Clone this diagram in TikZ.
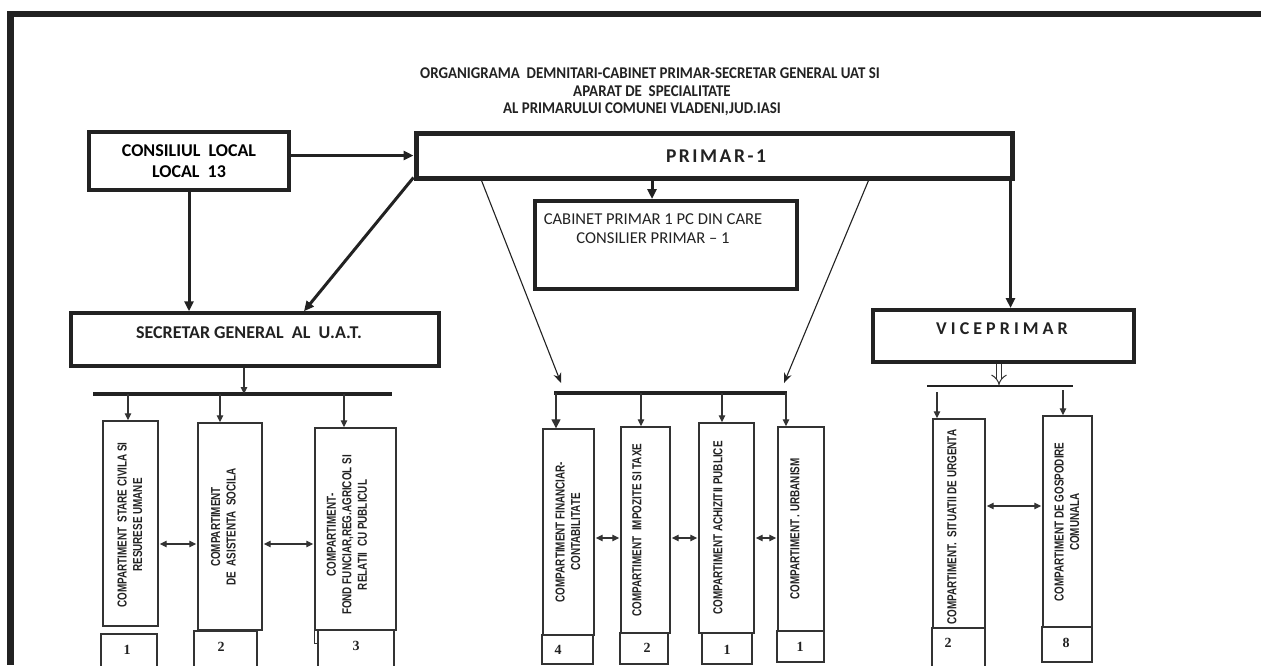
\documentclass[tikz,border=0pt]{standalone}
\usepackage{fontspec}
\usetikzlibrary{arrows.meta,calc}
\newfontfamily\calfont{Carlito}
\newfontfamily\calnarrow[FakeStretch=0.91]{Carlito}
\newfontfamily\narfont[FakeStretch=0.76]{Liberation Sans}
\newfontfamily\serfont{Liberation Serif}
\definecolor{ink}{HTML}{222222}
\definecolor{ink2}{HTML}{333333}
\begin{document}
\begin{tikzpicture}[x=1pt,y=-1pt,
  topbox/.style={draw=ink, line width=4pt, inner sep=0pt, align=center,
    font={\calfont\bfseries\fontsize{18}{21}\selectfont}},
  toptext/.style={inner sep=0pt, align=center, text=ink,
    font={\calfont\bfseries\fontsize{18}{21}\selectfont}},
  titletext/.style={inner sep=0pt, text=ink,
    font={\calnarrow\bfseries\fontsize{16.4}{18}\selectfont}},
  cabtext/.style={inner sep=0pt, align=center, text=ink,
    font={\calfont\fontsize{16.6}{19}\selectfont}},
  compbox/.style={draw=ink2, line width=1.4pt, inner sep=0pt},
  comptext/.style={rotate=90, inner sep=0pt, align=center, text=ink,
    font={\narfont\bfseries\fontsize{13}{15.5}\selectfont}},
  numtext/.style={inner sep=0pt, text=ink,
    font={\serfont\bfseries\fontsize{14}{16}\selectfont}},
  bigarr/.style={draw=ink, line width=3pt, -{Triangle[length=10pt,width=9pt]}},
  thinarr/.style={draw=ink, line width=1.1pt, -{Stealth[length=10pt,width=8pt]}},
  sarr/.style={draw=ink2, line width=1.3pt, -{Triangle[length=7pt,width=6.5pt]}},
  darr/.style={draw=ink2, line width=1.3pt, {Triangle[length=7pt,width=6.5pt]}-{Triangle[length=7pt,width=6.5pt]}, shorten <=1pt, shorten >=1pt},
  busline/.style={draw=ink, line width=3.3pt},
  openarr/.style={draw=ink2, double=white, double distance=4.5pt, line width=1pt, -{Implies}}
]
\useasboundingbox (0,0) rectangle (1261,665);
\fill[white] (0,0) rectangle (1261,665);
% scanned page border
\fill[ink] (7,11) rectangle (1261,17);
\fill[ink] (7,11) rectangle (14,665);

% title
\node[titletext] (t1) at (650,73) {ORGANIGRAMA\ \ DEMNITARI-CABINET PRIMAR-SECRETAR GENERAL UAT SI};
\node[titletext] (t2) at (652,91) {APARAT DE\ \ SPECIALITATE};
\node[titletext] (t3) at (642,109) {AL PRIMARULUI COMUNEI VLADENI,JUD.IASI};

% top boxes
\node[topbox, minimum width=200pt, minimum height=58pt] (cons) at (189,161) {CONSILIUL\ \ LOCAL\\LOCAL\ \ 13};
\node[topbox, line width=5pt, minimum width=596pt, minimum height=45pt] (prim) at (714,155.5) {};
\node[toptext, font={\calfont\bfseries\fontsize{19.5}{22}\selectfont\addfontfeature{LetterSpace=13}}] (primt) at (716,156) {PRIMAR-1};
\node[topbox, minimum width=262pt, minimum height=88pt] (cab) at (666,245) {};
\node[cabtext] (cabt) at (653,228.5) {CABINET PRIMAR 1 PC DIN CARE\\CONSILIER PRIMAR \textendash\ 1};
\node[topbox, line width=3.5pt, minimum width=368pt, minimum height=53pt] (secr) at (255,339.5) {};
\node[toptext] (secrt) at (249,333) {SECRETAR GENERAL\ \ AL\ \ U.A.T.};
\node[topbox, minimum width=261pt, minimum height=52pt] (vice) at (1003.5,336) {};
\node[toptext] (vicet) at (1002,329) {V I C E P R I M A R};

% buses
\coordinate (lbusL) at (93,394);  \coordinate (lbusR) at (392,394);
\coordinate (mbusL) at (554,393); \coordinate (mbusR) at (787,393);
\coordinate (rbusL) at (927,386); \coordinate (rbusR) at (1073,386);
\coordinate (mA) at (561,383); \coordinate (mB) at (784,383);
\draw[busline] (lbusL) -- (lbusR);
\draw[busline] (mbusL) -- (mbusR);
\draw[busline, line width=2.7pt] (rbusL) -- (rbusR);

% top connectors
\draw[bigarr] (cons.east |- prim.west) -- (prim.west);
\draw[bigarr] (cons.south) -- (cons.south |- secr.north);
\draw[bigarr] ([yshift=3pt]prim.south west) -- ([xshift=49pt]secr.north);
\draw[bigarr] ([xshift=-62pt]prim.south) -- ([xshift=-62pt]prim.south |- cab.north);
\draw[bigarr] ([xshift=-4pt]prim.south east) -- ([xshift=-4pt]prim.south east |- vice.north);
\draw[thinarr] ([xshift=68pt]prim.south west) -- (mA);
\draw[thinarr] ([xshift=-146pt]prim.south east) -- (mB);
\draw[sarr] ([xshift=-11pt]secr.south) -- ([xshift=-11pt]secr.south |- lbusL);
\draw[openarr] ([xshift=-4.5pt]vice.south) -- ([xshift=-4.5pt,yshift=1pt]vice.south |- rbusL);

% compartment boxes
\node[compbox, minimum width=55pt, minimum height=205pt] (b1) at (130.5,523.5) {};
\node[compbox, minimum width=64pt, minimum height=207pt] (b2) at (230,526.5) {};
\node[compbox, minimum width=81pt, minimum height=202pt] (b3) at (355.5,529) {};
\node[compbox, minimum width=51pt, minimum height=206pt] (b4) at (568.5,532) {};
\node[compbox, minimum width=49pt, minimum height=206pt] (b5) at (645.5,530) {};
\node[compbox, minimum width=55pt, minimum height=210pt] (b6) at (726.5,528) {};
\node[compbox, minimum width=46pt, minimum height=204pt] (b7) at (801,529) {};
\node[compbox, minimum width=52pt, minimum height=209pt] (b8) at (959,523.5) {};
\node[compbox, minimum width=49pt, minimum height=211pt] (b9) at (1067.5,521.5) {};
\draw[draw=ink2, line width=1.4pt] (b3.south west) -- ++(0,13) -- ++(3,0);

\node[comptext] (t1c) at (130,525) {COMPARTIMENT\ \ STARE CIVILA SI\\RESURESE UMANE};
\node[comptext] (t2c) at (223.5,527) {COMPARTIMENT\\DE\ \ ASISTENTA\ \ SOCILA};
\node[comptext] (t3c) at (347,535) {COMPARTIMENT-\\FOND FUNCIAR,REG.AGRICOL SI\\RELATII\ \ CU PUBLICUL};
\node[comptext] (t4c) at (568,532) {COMPARTIMENT FINANCIAR-\\CONTABILITATE};
\node[comptext] (t5c) at (637,530) {COMPARTIMENT\ \ IMPOZITE SI TAXE};
\node[comptext] (t6c) at (718,528) {COMPARTIMENT ACHIZITII PUBLICE};
\node[comptext] (t7c) at (795,529) {COMPARTIMENT . URBANISM};
\node[comptext] (t8c) at (952,527) {COMPARTIMENT.\ \ SITUATII DE URGENTA};
\node[comptext] (t9c) at (1067,522) {COMPARTIMENT DE GOSPODIRE\\COMUNALA};

% number boxes
\node[compbox, minimum width=56pt, minimum height=38pt] (n1) at (129,653) {};
\node[compbox, minimum width=63pt, minimum height=41pt] (n2) at (225.5,651.5) {};
\node[compbox, minimum width=76pt, minimum height=42pt] (n3) at (356,651) {};
\node[compbox, minimum width=51pt, minimum height=29pt] (n4) at (567.5,649.5) {};
\node[compbox, minimum width=48pt, minimum height=31pt] (n5) at (644,648.5) {};
\node[compbox, minimum width=50pt, minimum height=31pt] (n6) at (727,648.5) {};
\node[compbox, minimum width=47pt, minimum height=31pt] (n7) at (800.5,646.5) {};
\node[compbox, minimum width=53pt, minimum height=44pt] (n8) at (958.5,650) {};
\node[compbox, minimum width=50pt, minimum height=35pt] (n9) at (1067,644.5) {};
\node[numtext] (n1t) at (127,650) {1};
\node[numtext] (n2t) at (221,647) {2};
\node[numtext] (n3t) at (356,646) {3};
\node[numtext] (n4t) at (558,650) {4};
\node[numtext] (n5t) at (647,648) {2};
\node[numtext] (n6t) at (727,650) {1};
\node[numtext] (n7t) at (800,647) {1};
\node[numtext] (n8t) at (948,643) {2};
\node[numtext] (n9t) at (1066,643) {8};

% bus to box arrows
\draw[sarr] ([xshift=-2.5pt]b1.north |- lbusL) -- ([xshift=-2.5pt]b1.north);
\draw[sarr] ([xshift=-10pt]b2.north |- lbusL) -- ([xshift=-10pt]b2.north);
\draw[sarr] ([xshift=-11.5pt]b3.north |- lbusL) -- ([xshift=-11.5pt]b3.north);
\draw[sarr, -{Triangle[length=9pt,width=9pt]}] ([xshift=-12.5pt]b4.north |- mbusL) -- ([xshift=-12.5pt]b4.north);
\draw[sarr] ([xshift=-4.5pt]b5.north |- mbusL) -- ([xshift=-4.5pt]b5.north);
\draw[sarr] ([xshift=-4.5pt]b6.north |- mbusL) -- ([xshift=-4.5pt]b6.north);
\draw[sarr] ([xshift=-15pt]b7.north |- mbusL) -- ([xshift=-15pt]b7.north);
\draw[sarr] ([xshift=-22pt,yshift=-6pt]b8.north |- rbusL) -- ([xshift=-22pt]b8.north);
\draw[sarr] ([xshift=-4.5pt,yshift=-4pt]b9.north |- rbusL) -- ([xshift=-4.5pt]b9.north);

% lateral links
\draw[darr] ([yshift=-20.5pt]b1.east) -- ([yshift=-20.5pt]b1.east -| b2.west);
\draw[darr] ([yshift=-17.5pt]b2.east) -- ([yshift=-17.5pt]b2.east -| b3.west);
\draw[darr] ([yshift=-6pt]b4.east) -- ([yshift=-6pt]b4.east -| b5.west);
\draw[darr] ([yshift=-8pt]b5.east) -- ([yshift=-8pt]b5.east -| b6.west);
\draw[darr] ([yshift=-10pt]b6.east) -- ([yshift=-10pt]b6.east -| b7.west);
\draw[darr] ([yshift=17.5pt]b8.east) -- ([yshift=17.5pt]b8.east -| b9.west);
\end{tikzpicture}
\end{document}
